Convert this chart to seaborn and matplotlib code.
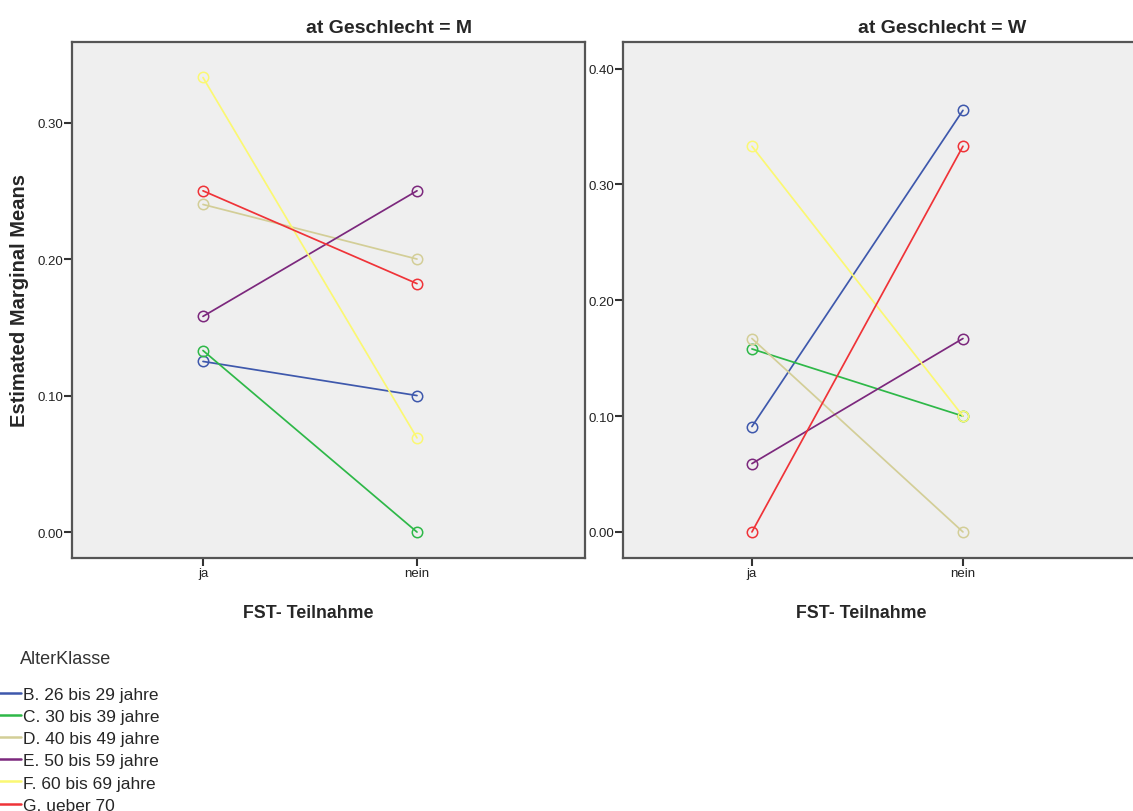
import matplotlib
matplotlib.use("Agg")
import matplotlib.pyplot as plt
from matplotlib.lines import Line2D
from matplotlib.ticker import FormatStrFormatter
import pandas as pd
import seaborn as sns

# Werte
teilnahme = ["ja", "nein"]
alter_klassen = [
    "B. 26 bis 29 jahre",
    "C. 30 bis 39 jahre",
    "D. 40 bis 49 jahre",
    "E. 50 bis 59 jahre",
    "F. 60 bis 69 jahre",
    "G. ueber 70",
]
farben = ["#3E58AC", "#2EB848", "#D3CE97", "#7C287D", "#FBF873", "#EF3338"]

m_ja = [0.125, 0.133, 0.240, 0.158, 0.333, 0.250]
m_nein = [0.100, 0.000, 0.200, 0.250, 0.069, 0.182]
w_ja = [0.091, 0.158, 0.167, 0.059, 0.333, 0.000]
w_nein = [0.364, 0.100, 0.000, 0.167, 0.100, 0.333]

rows = []
for g, ja, nein in [("M", m_ja, m_nein), ("W", w_ja, w_nein)]:
    for k, a, b in zip(alter_klassen, ja, nein):
        rows.append((g, k, teilnahme[0], a))
        rows.append((g, k, teilnahme[1], b))
df = pd.DataFrame(rows, columns=["Geschlecht", "AlterKlasse", "Teilnahme", "mean"])

sns.set_style("white")
plt.rcParams["font.family"] = ["Liberation Sans", "DejaVu Sans"]

W, H = 1133, 812
fig = plt.figure(figsize=(W / 100, H / 100), dpi=100)

# Achsenpositionen in Pixeln: links, oben, rechts, unten
panels = [
    ("M", (72, 43, 585, 559), (-0.612, 1.785), (-0.019, 0.359), [0.0, 0.1, 0.2, 0.3]),
    ("W", (623, 43, 1140, 559), (-0.611, 1.839), (-0.0225, 0.423), [0.0, 0.1, 0.2, 0.3, 0.4]),
]

for i, (g, (x0, y0, x1, y1), xl, yl, yt) in enumerate(panels):
    ax = fig.add_axes([x0 / W, 1 - y1 / H, (x1 - x0) / W, (y1 - y0) / H])
    ax.set_facecolor("#EFEFEF")
    sub = df[df["Geschlecht"] == g]
    sns.lineplot(data=sub, x="Teilnahme", y="mean", hue="AlterKlasse",
                 hue_order=alter_klassen, palette=farben, marker="o",
                 markersize=7.5, markerfacecolor="none", markeredgewidth=1.1,
                 linewidth=1.25, sort=False, legend=False, ax=ax)
    for ln in ax.lines:
        ln.set_markeredgecolor(ln.get_color())
    ax.set_xlim(*xl)
    ax.set_ylim(*yl)
    ax.set_yticks(yt)
    ax.yaxis.set_major_formatter(FormatStrFormatter("%.2f"))
    ax.tick_params(bottom=True, left=True, top=False, right=False,
                   direction="out", length=6, width=1.5, color="#333333",
                   labelsize=9.5, labelcolor="#222222", pad=0.5)
    for s in ax.spines.values():
        s.set_color("#555555")
        s.set_linewidth(1.6)
    ax.set_title(f"at Geschlecht = {g}", fontsize=14, fontweight="bold",
                 x=0.618, pad=7)
    ax.set_xlabel("FST- Teilnahme", fontsize=12.8, fontweight="bold")
    ax.xaxis.set_label_coords(0.46, -0.09)
    if i == 0:
        ax.set_ylabel("Estimated Marginal Means", fontsize=14.5, fontweight="bold")
        ax.yaxis.set_label_coords(-0.083, 0.5)
    else:
        ax.set_ylabel("")

fig.text(20 / W, 1 - 660 / H, "AlterKlasse", fontsize=13, color="#333333",
         va="center", ha="left")
handles = [Line2D([0], [0], color=c, lw=1.8) for c in farben]
fig.legend(handles, alter_klassen, loc="upper left",
           bbox_to_anchor=(-0.003, 1 - 688 / H), frameon=False,
           fontsize=12.5, handlelength=1.4, handletextpad=0.12,
           labelspacing=0.4, borderpad=0, borderaxespad=0)

fig.savefig("out.png", dpi=100)
